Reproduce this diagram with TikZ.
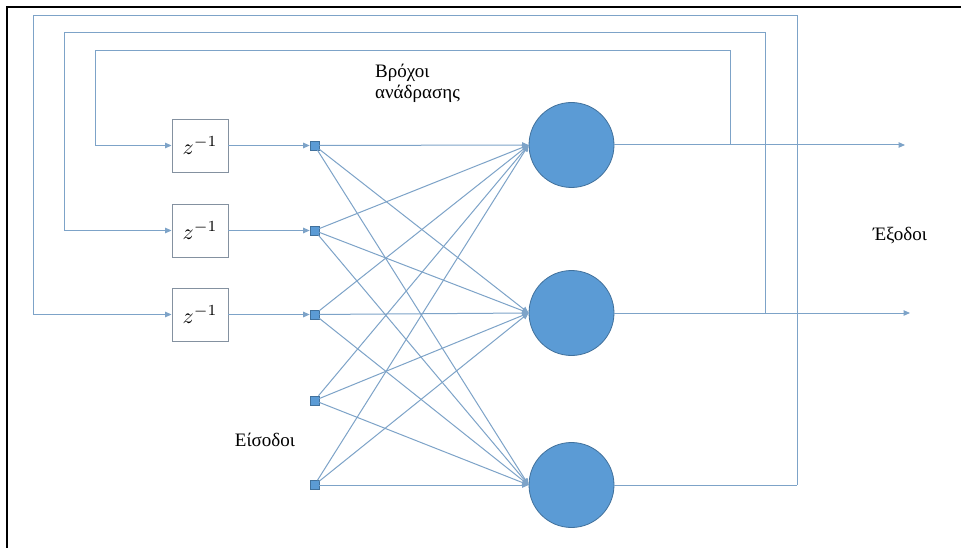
\documentclass[tikz,border=0pt]{standalone}
\usepackage{fontspec}
\setmainfont{Liberation Serif}
\newfontfamily\grkfont{Liberation Serif}
\usetikzlibrary{arrows.meta}
\definecolor{linec}{RGB}{125,163,200}
\definecolor{boxc}{RGB}{132,145,160}
\definecolor{neufill}{RGB}{91,155,213}
\definecolor{neudraw}{RGB}{65,113,156}
\tikzset{
  conn/.style={draw=linec, line width=1pt},
  arr/.style={conn, -{Triangle[length=6.5pt,width=5.5pt]}},
  delaybox/.style={draw=boxc, line width=0.9pt, minimum width=56pt, minimum height=53pt, inner sep=0pt},
  neuron/.style={circle, fill=neufill, draw=neudraw, line width=0.8pt, minimum size=85pt, inner sep=0pt},
  inp/.style={rectangle, fill=neufill, draw=neudraw, line width=0.6pt, minimum size=9pt, inner sep=0pt},
  lbl/.style={font=\grkfont\fontsize{19}{21}\selectfont, inner sep=0pt}
}
\newcommand{\zinv}{\scalebox{2.2}{$z^{-1}$}}
\begin{document}
\begin{tikzpicture}[x=1pt,y=-1pt]
\useasboundingbox (0,0) rectangle (961,548);
\fill[white] (0,0) rectangle (961,548);
\draw[line width=2pt] (7,548) -- (7,7) -- (961,7);

% delay boxes
\node[delaybox] (d1) at (200,145.5) {\zinv};
\node[delaybox] (d2) at (200,230.5) {\zinv};
\node[delaybox] (d3) at (200,314.5) {\zinv};

% inputs
\node[inp] (i1) at (314.5,145.5) {};
\node[inp] (i2) at (314.5,230.5) {};
\node[inp] (i3) at (314.5,314.5) {};
\node[inp] (i4) at (314.5,400.5) {};
\node[inp] (i5) at (314.5,485) {};

% neurons
\node[neuron] (n1) at (571.5,145) {};
\node[neuron] (n2) at (571.5,313) {};
\node[neuron] (n3) at (571.5,485) {};

% connections
\foreach \i in {1,...,5} {
  \foreach \j in {1,2,3} {
    \draw[arr] (i\i) -- (n\j.west);
  }
}

% delay to input
\draw[arr] (d1) -- (i1);
\draw[arr] (d2) -- (i2);
\draw[arr] (d3) -- (i3);

% outputs
\coordinate (o1) at (905,145);
\coordinate (o2) at (910,313);
\coordinate (o3) at (797,485);
\draw[arr] (n1) -- (o1);
\draw[arr] (n2) -- (o2);
\draw[conn] (n3) -- (o3);

% feedback loops
\coordinate (a1) at (730,145);
\coordinate (a2) at (765,313);
\draw[conn] (a1) -- (730,51) -- (95,51) -- (95,145.5) coordinate (b1);
\draw[arr] (b1) -- (d1);
\draw[conn] (a2) -- (765,33) -- (64,33) -- (64,230.5) coordinate (b2);
\draw[arr] (b2) -- (d2);
\draw[conn] (o3) -- (797,16) -- (33,16) -- (33,314.5) coordinate (b3);
\draw[arr] (b3) -- (d3);

% labels
\node[lbl, anchor=north west, align=left] (fb) at (375,64) {Βρόχοι\\ανάδρασης};
\node[lbl] (out) at (900,236) {Έξοδοι};
\node[lbl] (in) at (265,440) {Είσοδοι};
\end{tikzpicture}
\end{document}
